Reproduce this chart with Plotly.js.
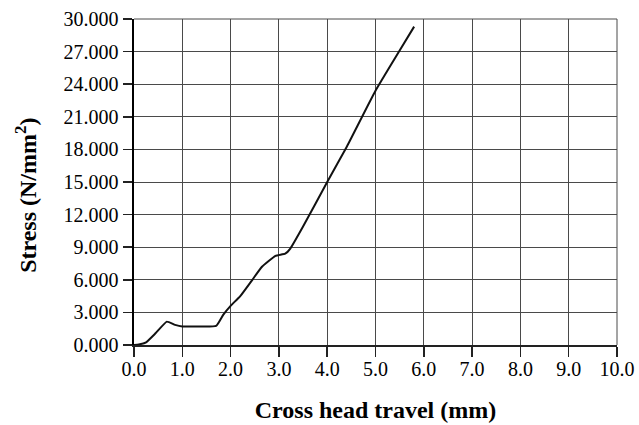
<!DOCTYPE html>
<html>
<head>
<meta charset="utf-8">
<script src="https://cdn.plot.ly/plotly-3.0.1.min.js"></script>
<style>html,body{margin:0;padding:0;background:#fff;}#chart{width:639px;height:425px;}</style>
</head>
<body>
<div id="chart"></div>
<script>
// Cross head travel (mm)
const travel = [0, 0.1, 0.25, 0.45, 0.68, 0.85, 1.0, 1.3, 1.7, 1.85, 2.0, 2.2, 2.45, 2.65, 2.93, 3.13, 3.24, 3.5, 4.0, 4.4, 5.0, 5.5, 5.8];
// Stress (N/mm^2)
const stress = [0, 0.05, 0.25, 1.1, 2.15, 1.85, 1.7, 1.7, 1.75, 2.8, 3.6, 4.5, 6.0, 7.2, 8.2, 8.4, 8.9, 10.9, 15.0, 18.2, 23.4, 27.1, 29.3];

const xTicks = [0,1,2,3,4,5,6,7,8,9,10];
const xTickLabels = ["0.0","1.0","2.0","3.0","4.0","5.0","6.0","7.0","8.0","9.0","10.0"];
const yTicks = [0,3,6,9,12,15,18,21,24,27,30];
const yTickLabels = ["0.000","3.000","6.000","9.000","12.000","15.000","18.000","21.000","24.000","27.000","30.000"];

const serif = 'Liberation Serif, serif';

const trace = {
  x: travel, y: stress, type: 'scatter', mode: 'lines',
  line: {color: '#111', width: 2, shape: 'spline', smoothing: 0.4},
  hoverinfo: 'skip', showlegend: false
};

const layout = {
  width: 639, height: 425,
  margin: {l: 134, r: 22, t: 19, b: 80},
  paper_bgcolor: '#fff', plot_bgcolor: '#fff',
  font: {family: serif, size: 20, color: '#000'},
  xaxis: {
    range: [0, 10], tickvals: xTicks, ticktext: xTickLabels,
    showgrid: true, gridcolor: '#4a4a4a', gridwidth: 1,
    showline: true, linecolor: '#222', linewidth: 1.5,
    ticks: 'outside', ticklen: 10, tickcolor: '#222', tickwidth: 1.5,
    ticklabelstandoff: -5,
    zeroline: false, automargin: false,
    tickfont: {family: serif, size: 20, color: '#000'},
    title: {text: '<b>Cross head travel (mm)</b>', font: {family: serif, size: 24, color: '#000'}, standoff: 22}
  },
  yaxis: {
    range: [0, 30], tickvals: yTicks, ticktext: yTickLabels,
    showgrid: true, gridcolor: '#4a4a4a', gridwidth: 1,
    showline: true, linecolor: '#000', linewidth: 2.5,
    ticks: 'outside', ticklen: 9, tickcolor: '#222', tickwidth: 1.5,
    zeroline: false, automargin: false,
    tickfont: {family: serif, size: 20, color: '#000'}
  },
  annotations: [
    {text: '<b>Stress (N/mm<sup>2</sup>)</b>', textangle: -90, showarrow: false,
     xref: 'paper', yref: 'paper', x: -0.224, y: 0.46, xanchor: 'center', yanchor: 'middle',
     font: {family: serif, size: 24, color: '#000'}}
  ],
  shapes: [
    {type: 'line', xref: 'paper', yref: 'paper', x0: 0, x1: 1, y0: 1, y1: 1, line: {color: '#4a4a4a', width: 1}},
    {type: 'line', xref: 'paper', yref: 'paper', x0: 1, x1: 1, y0: 0, y1: 1, line: {color: '#4a4a4a', width: 1}}
  ]
};

Plotly.newPlot('chart', [trace], layout, {displayModeBar: false, staticPlot: true});
</script>
</body>
</html>
